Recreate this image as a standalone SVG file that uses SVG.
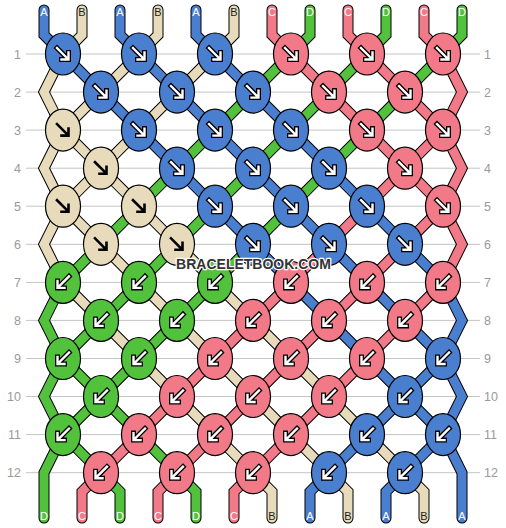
<svg xmlns="http://www.w3.org/2000/svg" xmlns:xlink="http://www.w3.org/1999/xlink" width="506" height="528" viewBox="0 0 506 528">
<style>
.grid{stroke:#c4c4c4;stroke-width:1}
.rn{font-family:"Liberation Sans",Arial,sans-serif;font-size:12.5px;fill:#9a9a9a}
.o{fill:none;stroke:#000;stroke-width:11;stroke-linecap:round;stroke-linejoin:miter}
.f{fill:none;stroke-width:9;stroke-linecap:round;stroke-linejoin:miter}
.cA{stroke:#4a7fcf}.cB{stroke:#e8dbbb}.cC{stroke:#f27a88}.cD{stroke:#52c23d}
.kA{fill:#4a7fcf}.kB{fill:#e8dbbb}.kC{fill:#f27a88}.kD{fill:#52c23d}
.k ellipse{stroke:#000;stroke-width:1.2}
.lb{font-family:"Liberation Sans",Arial,sans-serif;font-size:11px;text-anchor:middle;fill:#fff}
.lb.dk{fill:#222}
.wm{font-family:"Liberation Sans",Arial,sans-serif;font-weight:bold;font-size:14px;text-anchor:middle;fill:#333;stroke:#fff;stroke-width:2.5;paint-order:stroke;stroke-linejoin:round}
</style>
<defs>
<path id="s0" d="M44 10 L44 35 L63 54 L101 92.1 L139 130.1 L177 168.2 L215 206.2 L253 244.3 L291 282.4 L329 320.4 L367 358.5 L405 396.5 L443 434.6 L462 472.7 L462 518"/>
<path id="s1" d="M82 10 L82 35 L63 54 L44 92.1 L63 130.1 L101 168.2 L139 206.2 L177 244.3 L215 282.4 L253 320.4 L291 358.5 L329 396.5 L367 434.6 L405 472.7 L424 491.7 L424 518"/>
<path id="s2" d="M120 10 L120 35 L139 54 L177 92.1 L215 130.1 L253 168.2 L291 206.2 L329 244.3 L367 282.4 L405 320.4 L443 358.5 L462 396.5 L443 434.6 L405 472.7 L386 491.7 L386 518"/>
<path id="s3" d="M158 10 L158 35 L139 54 L101 92.1 L63 130.1 L44 168.2 L63 206.2 L101 244.3 L139 282.4 L177 320.4 L215 358.5 L253 396.5 L291 434.6 L329 472.7 L348 491.7 L348 518"/>
<path id="s4" d="M196 10 L196 35 L215 54 L253 92.1 L291 130.1 L329 168.2 L367 206.2 L405 244.3 L443 282.4 L462 320.4 L443 358.5 L405 396.5 L367 434.6 L329 472.7 L310 491.7 L310 518"/>
<path id="s5" d="M234 10 L234 35 L215 54 L177 92.1 L139 130.1 L101 168.2 L63 206.2 L44 244.3 L63 282.4 L101 320.4 L139 358.5 L177 396.5 L215 434.6 L253 472.7 L272 491.7 L272 518"/>
<path id="s6" d="M272 10 L272 35 L291 54 L329 92.1 L367 130.1 L405 168.2 L443 206.2 L462 244.3 L443 282.4 L405 320.4 L367 358.5 L329 396.5 L291 434.6 L253 472.7 L234 491.7 L234 518"/>
<path id="s7" d="M310 10 L310 35 L291 54 L253 92.1 L215 130.1 L177 168.2 L139 206.2 L101 244.3 L63 282.4 L44 320.4 L63 358.5 L101 396.5 L139 434.6 L177 472.7 L196 491.7 L196 518"/>
<path id="s8" d="M348 10 L348 35 L367 54 L405 92.1 L443 130.1 L462 168.2 L443 206.2 L405 244.3 L367 282.4 L329 320.4 L291 358.5 L253 396.5 L215 434.6 L177 472.7 L158 491.7 L158 518"/>
<path id="s9" d="M386 10 L386 35 L367 54 L329 92.1 L291 130.1 L253 168.2 L215 206.2 L177 244.3 L139 282.4 L101 320.4 L63 358.5 L44 396.5 L63 434.6 L101 472.7 L120 491.7 L120 518"/>
<path id="s10" d="M424 10 L424 35 L443 54 L462 92.1 L443 130.1 L405 168.2 L367 206.2 L329 244.3 L291 282.4 L253 320.4 L215 358.5 L177 396.5 L139 434.6 L101 472.7 L82 491.7 L82 518"/>
<path id="s11" d="M462 10 L462 35 L443 54 L405 92.1 L367 130.1 L329 168.2 L291 206.2 L253 244.3 L215 282.4 L177 320.4 L139 358.5 L101 396.5 L63 434.6 L44 472.7 L44 518"/>
<g id="aw"><path d="M-6 -6 L4.5 4.5 M5.5 -1.5 V5.5 H-1.5" fill="none" stroke="#000" stroke-width="5" stroke-linecap="square"/><path d="M-6 -6 L4.5 4.5 M5.5 -1.5 V5.5 H-1.5" fill="none" stroke="#fff" stroke-width="2.4" stroke-linecap="square"/></g>
<g id="ab"><path d="M-6 -6 L4.5 4.5 M5.5 -1.5 V5.5 H-1.5" fill="none" stroke="#000" stroke-width="2.6" stroke-linecap="square"/></g>
<g id="bw"><use xlink:href="#aw" transform="scale(-1,1)"/></g>
</defs>
<g id="grid">
<g class="grid">
<line x1="26" y1="54" x2="480" y2="54"/><line x1="26" y1="92.1" x2="480" y2="92.1"/><line x1="26" y1="130.1" x2="480" y2="130.1"/><line x1="26" y1="168.2" x2="480" y2="168.2"/><line x1="26" y1="206.2" x2="480" y2="206.2"/><line x1="26" y1="244.3" x2="480" y2="244.3"/><line x1="26" y1="282.4" x2="480" y2="282.4"/><line x1="26" y1="320.4" x2="480" y2="320.4"/><line x1="26" y1="358.5" x2="480" y2="358.5"/><line x1="26" y1="396.5" x2="480" y2="396.5"/><line x1="26" y1="434.6" x2="480" y2="434.6"/><line x1="26" y1="472.7" x2="480" y2="472.7"/>
</g>
<g class="rn" text-anchor="end">
<text x="21" y="58.5">1</text><text x="21" y="96.6">2</text><text x="21" y="134.6">3</text><text x="21" y="172.7">4</text><text x="21" y="210.7">5</text><text x="21" y="248.8">6</text><text x="21" y="286.9">7</text><text x="21" y="324.9">8</text><text x="21" y="363">9</text><text x="21" y="401">10</text><text x="21" y="439.1">11</text><text x="21" y="477.2">12</text>
</g>
<g class="rn">
<text x="484" y="58.5">1</text><text x="484" y="96.6">2</text><text x="484" y="134.6">3</text><text x="484" y="172.7">4</text><text x="484" y="210.7">5</text><text x="484" y="248.8">6</text><text x="484" y="286.9">7</text><text x="484" y="324.9">8</text><text x="484" y="363">9</text><text x="484" y="401">10</text><text x="484" y="439.1">11</text><text x="484" y="477.2">12</text>
</g>
</g>
<g id="connectors">
<g class="o">
<use xlink:href="#s0"/><use xlink:href="#s1"/><use xlink:href="#s2"/><use xlink:href="#s3"/><use xlink:href="#s4"/><use xlink:href="#s5"/><use xlink:href="#s6"/><use xlink:href="#s7"/><use xlink:href="#s8"/><use xlink:href="#s9"/><use xlink:href="#s10"/><use xlink:href="#s11"/>
</g>
<g class="f">
<use class="cA" xlink:href="#s0"/><use class="cB" xlink:href="#s1"/><use class="cA" xlink:href="#s2"/><use class="cB" xlink:href="#s3"/><use class="cA" xlink:href="#s4"/><use class="cB" xlink:href="#s5"/><use class="cC" xlink:href="#s6"/><use class="cD" xlink:href="#s7"/><use class="cC" xlink:href="#s8"/><use class="cD" xlink:href="#s9"/><use class="cC" xlink:href="#s10"/><use class="cD" xlink:href="#s11"/>
</g>
</g>
<g id="labels">
<text class="lb" x="44" y="16">A</text><text class="lb dk" x="82" y="16">B</text><text class="lb" x="120" y="16">A</text><text class="lb dk" x="158" y="16">B</text><text class="lb" x="196" y="16">A</text><text class="lb dk" x="234" y="16">B</text><text class="lb" x="272" y="16">C</text><text class="lb" x="310" y="16">D</text><text class="lb" x="348" y="16">C</text><text class="lb" x="386" y="16">D</text><text class="lb" x="424" y="16">C</text><text class="lb" x="462" y="16">D</text>
<text class="lb" x="44" y="520">D</text><text class="lb" x="82" y="520">C</text><text class="lb" x="120" y="520">D</text><text class="lb" x="158" y="520">C</text><text class="lb" x="196" y="520">D</text><text class="lb" x="234" y="520">C</text><text class="lb dk" x="272" y="520">B</text><text class="lb" x="310" y="520">A</text><text class="lb dk" x="348" y="520">B</text><text class="lb" x="386" y="520">A</text><text class="lb dk" x="424" y="520">B</text><text class="lb" x="462" y="520">A</text>
</g>
<g id="knots">
<!-- row 1 -->
<g id="k1-1" class="k" transform="translate(63,54)"><ellipse class="kA" rx="17.5" ry="21"/><use xlink:href="#aw"/></g>
<g id="k1-2" class="k" transform="translate(139,54)"><ellipse class="kA" rx="17.5" ry="21"/><use xlink:href="#aw"/></g>
<g id="k1-3" class="k" transform="translate(215,54)"><ellipse class="kA" rx="17.5" ry="21"/><use xlink:href="#aw"/></g>
<g id="k1-4" class="k" transform="translate(291,54)"><ellipse class="kC" rx="17.5" ry="21"/><use xlink:href="#aw"/></g>
<g id="k1-5" class="k" transform="translate(367,54)"><ellipse class="kC" rx="17.5" ry="21"/><use xlink:href="#aw"/></g>
<g id="k1-6" class="k" transform="translate(443,54)"><ellipse class="kC" rx="17.5" ry="21"/><use xlink:href="#aw"/></g>
<!-- row 2 -->
<g id="k2-1" class="k" transform="translate(101,92.1)"><ellipse class="kA" rx="17.5" ry="21"/><use xlink:href="#aw"/></g>
<g id="k2-2" class="k" transform="translate(177,92.1)"><ellipse class="kA" rx="17.5" ry="21"/><use xlink:href="#aw"/></g>
<g id="k2-3" class="k" transform="translate(253,92.1)"><ellipse class="kA" rx="17.5" ry="21"/><use xlink:href="#aw"/></g>
<g id="k2-4" class="k" transform="translate(329,92.1)"><ellipse class="kC" rx="17.5" ry="21"/><use xlink:href="#aw"/></g>
<g id="k2-5" class="k" transform="translate(405,92.1)"><ellipse class="kC" rx="17.5" ry="21"/><use xlink:href="#aw"/></g>
<!-- row 3 -->
<g id="k3-1" class="k" transform="translate(63,130.1)"><ellipse class="kB" rx="17.5" ry="21"/><use xlink:href="#ab"/></g>
<g id="k3-2" class="k" transform="translate(139,130.1)"><ellipse class="kA" rx="17.5" ry="21"/><use xlink:href="#aw"/></g>
<g id="k3-3" class="k" transform="translate(215,130.1)"><ellipse class="kA" rx="17.5" ry="21"/><use xlink:href="#aw"/></g>
<g id="k3-4" class="k" transform="translate(291,130.1)"><ellipse class="kA" rx="17.5" ry="21"/><use xlink:href="#aw"/></g>
<g id="k3-5" class="k" transform="translate(367,130.1)"><ellipse class="kC" rx="17.5" ry="21"/><use xlink:href="#aw"/></g>
<g id="k3-6" class="k" transform="translate(443,130.1)"><ellipse class="kC" rx="17.5" ry="21"/><use xlink:href="#aw"/></g>
<!-- row 4 -->
<g id="k4-1" class="k" transform="translate(101,168.2)"><ellipse class="kB" rx="17.5" ry="21"/><use xlink:href="#ab"/></g>
<g id="k4-2" class="k" transform="translate(177,168.2)"><ellipse class="kA" rx="17.5" ry="21"/><use xlink:href="#aw"/></g>
<g id="k4-3" class="k" transform="translate(253,168.2)"><ellipse class="kA" rx="17.5" ry="21"/><use xlink:href="#aw"/></g>
<g id="k4-4" class="k" transform="translate(329,168.2)"><ellipse class="kA" rx="17.5" ry="21"/><use xlink:href="#aw"/></g>
<g id="k4-5" class="k" transform="translate(405,168.2)"><ellipse class="kC" rx="17.5" ry="21"/><use xlink:href="#aw"/></g>
<!-- row 5 -->
<g id="k5-1" class="k" transform="translate(63,206.2)"><ellipse class="kB" rx="17.5" ry="21"/><use xlink:href="#ab"/></g>
<g id="k5-2" class="k" transform="translate(139,206.2)"><ellipse class="kB" rx="17.5" ry="21"/><use xlink:href="#ab"/></g>
<g id="k5-3" class="k" transform="translate(215,206.2)"><ellipse class="kA" rx="17.5" ry="21"/><use xlink:href="#aw"/></g>
<g id="k5-4" class="k" transform="translate(291,206.2)"><ellipse class="kA" rx="17.5" ry="21"/><use xlink:href="#aw"/></g>
<g id="k5-5" class="k" transform="translate(367,206.2)"><ellipse class="kA" rx="17.5" ry="21"/><use xlink:href="#aw"/></g>
<g id="k5-6" class="k" transform="translate(443,206.2)"><ellipse class="kC" rx="17.5" ry="21"/><use xlink:href="#aw"/></g>
<!-- row 6 -->
<g id="k6-1" class="k" transform="translate(101,244.3)"><ellipse class="kB" rx="17.5" ry="21"/><use xlink:href="#ab"/></g>
<g id="k6-2" class="k" transform="translate(177,244.3)"><ellipse class="kB" rx="17.5" ry="21"/><use xlink:href="#ab"/></g>
<g id="k6-3" class="k" transform="translate(253,244.3)"><ellipse class="kA" rx="17.5" ry="21"/><use xlink:href="#aw"/></g>
<g id="k6-4" class="k" transform="translate(329,244.3)"><ellipse class="kA" rx="17.5" ry="21"/><use xlink:href="#aw"/></g>
<g id="k6-5" class="k" transform="translate(405,244.3)"><ellipse class="kA" rx="17.5" ry="21"/><use xlink:href="#aw"/></g>
<!-- row 7 -->
<g id="k7-1" class="k" transform="translate(63,282.4)"><ellipse class="kD" rx="17.5" ry="21"/><use xlink:href="#bw"/></g>
<g id="k7-2" class="k" transform="translate(139,282.4)"><ellipse class="kD" rx="17.5" ry="21"/><use xlink:href="#bw"/></g>
<g id="k7-3" class="k" transform="translate(215,282.4)"><ellipse class="kD" rx="17.5" ry="21"/><use xlink:href="#bw"/></g>
<g id="k7-4" class="k" transform="translate(291,282.4)"><ellipse class="kC" rx="17.5" ry="21"/><use xlink:href="#bw"/></g>
<g id="k7-5" class="k" transform="translate(367,282.4)"><ellipse class="kC" rx="17.5" ry="21"/><use xlink:href="#bw"/></g>
<g id="k7-6" class="k" transform="translate(443,282.4)"><ellipse class="kC" rx="17.5" ry="21"/><use xlink:href="#bw"/></g>
<!-- row 8 -->
<g id="k8-1" class="k" transform="translate(101,320.4)"><ellipse class="kD" rx="17.5" ry="21"/><use xlink:href="#bw"/></g>
<g id="k8-2" class="k" transform="translate(177,320.4)"><ellipse class="kD" rx="17.5" ry="21"/><use xlink:href="#bw"/></g>
<g id="k8-3" class="k" transform="translate(253,320.4)"><ellipse class="kC" rx="17.5" ry="21"/><use xlink:href="#bw"/></g>
<g id="k8-4" class="k" transform="translate(329,320.4)"><ellipse class="kC" rx="17.5" ry="21"/><use xlink:href="#bw"/></g>
<g id="k8-5" class="k" transform="translate(405,320.4)"><ellipse class="kC" rx="17.5" ry="21"/><use xlink:href="#bw"/></g>
<!-- row 9 -->
<g id="k9-1" class="k" transform="translate(63,358.5)"><ellipse class="kD" rx="17.5" ry="21"/><use xlink:href="#bw"/></g>
<g id="k9-2" class="k" transform="translate(139,358.5)"><ellipse class="kD" rx="17.5" ry="21"/><use xlink:href="#bw"/></g>
<g id="k9-3" class="k" transform="translate(215,358.5)"><ellipse class="kC" rx="17.5" ry="21"/><use xlink:href="#bw"/></g>
<g id="k9-4" class="k" transform="translate(291,358.5)"><ellipse class="kC" rx="17.5" ry="21"/><use xlink:href="#bw"/></g>
<g id="k9-5" class="k" transform="translate(367,358.5)"><ellipse class="kC" rx="17.5" ry="21"/><use xlink:href="#bw"/></g>
<g id="k9-6" class="k" transform="translate(443,358.5)"><ellipse class="kA" rx="17.5" ry="21"/><use xlink:href="#bw"/></g>
<!-- row 10 -->
<g id="k10-1" class="k" transform="translate(101,396.5)"><ellipse class="kD" rx="17.5" ry="21"/><use xlink:href="#bw"/></g>
<g id="k10-2" class="k" transform="translate(177,396.5)"><ellipse class="kC" rx="17.5" ry="21"/><use xlink:href="#bw"/></g>
<g id="k10-3" class="k" transform="translate(253,396.5)"><ellipse class="kC" rx="17.5" ry="21"/><use xlink:href="#bw"/></g>
<g id="k10-4" class="k" transform="translate(329,396.5)"><ellipse class="kC" rx="17.5" ry="21"/><use xlink:href="#bw"/></g>
<g id="k10-5" class="k" transform="translate(405,396.5)"><ellipse class="kA" rx="17.5" ry="21"/><use xlink:href="#bw"/></g>
<!-- row 11 -->
<g id="k11-1" class="k" transform="translate(63,434.6)"><ellipse class="kD" rx="17.5" ry="21"/><use xlink:href="#bw"/></g>
<g id="k11-2" class="k" transform="translate(139,434.6)"><ellipse class="kC" rx="17.5" ry="21"/><use xlink:href="#bw"/></g>
<g id="k11-3" class="k" transform="translate(215,434.6)"><ellipse class="kC" rx="17.5" ry="21"/><use xlink:href="#bw"/></g>
<g id="k11-4" class="k" transform="translate(291,434.6)"><ellipse class="kC" rx="17.5" ry="21"/><use xlink:href="#bw"/></g>
<g id="k11-5" class="k" transform="translate(367,434.6)"><ellipse class="kA" rx="17.5" ry="21"/><use xlink:href="#bw"/></g>
<g id="k11-6" class="k" transform="translate(443,434.6)"><ellipse class="kA" rx="17.5" ry="21"/><use xlink:href="#bw"/></g>
<!-- row 12 -->
<g id="k12-1" class="k" transform="translate(101,472.7)"><ellipse class="kC" rx="17.5" ry="21"/><use xlink:href="#bw"/></g>
<g id="k12-2" class="k" transform="translate(177,472.7)"><ellipse class="kC" rx="17.5" ry="21"/><use xlink:href="#bw"/></g>
<g id="k12-3" class="k" transform="translate(253,472.7)"><ellipse class="kC" rx="17.5" ry="21"/><use xlink:href="#bw"/></g>
<g id="k12-4" class="k" transform="translate(329,472.7)"><ellipse class="kA" rx="17.5" ry="21"/><use xlink:href="#bw"/></g>
<g id="k12-5" class="k" transform="translate(405,472.7)"><ellipse class="kA" rx="17.5" ry="21"/><use xlink:href="#bw"/></g>
</g>
<text id="watermark" class="wm" x="253.5" y="268.5">BRACELETBOOK.COM</text>
</svg>
